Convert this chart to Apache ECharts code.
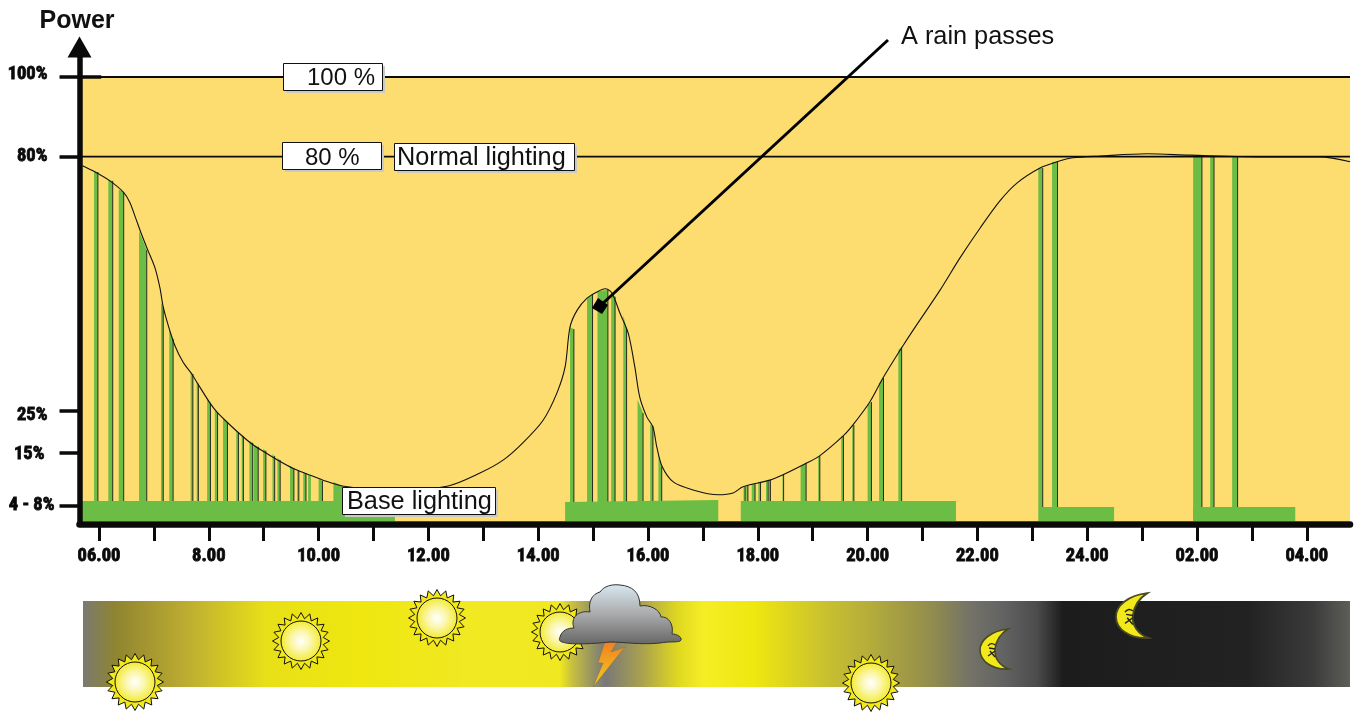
<!DOCTYPE html>
<html>
<head>
<meta charset="utf-8">
<style>html,body{margin:0;padding:0;background:#fff}#c{width:1356px;height:713px}</style>
<script src="https://cdn.jsdelivr.net/npm/echarts@6/dist/echarts.min.js"></script>
</head>
<body>
<div id="c"></div>
<script>
// Hours run on past midnight (26 = 02.00). Power is the height on the drawn, non-linear scale, 0-100.
const hourTicks = [6,7,8,9,10,11,12,13,14,15,16,17,18,19,20,21,22,23,24,25,26,27,28];
const hourLabelAt = [6,8,10,12,14,16,18,20,22,24,26,28];
const hourLabels = ['06.00','8.00','10.00','12.00','14.00','16.00','18.00','20.00','22.00','24.00','02.00','04.00'];
const powerTicks = [3.38,15.3,24.8,82.06,100];
const powerLabels = ['4 - 8%','15%','25%','80%','100%'];

const curveHour = [5.70,5.93,6.20,6.44,6.56,6.66,6.78,6.89,7.02,7.11,7.17,7.26,7.38,7.53,7.69,7.80,8.02,8.15,8.33,8.53,8.79,9.02,9.26,9.53,9.79,10.08,10.43,11.39,12.36,12.94,13.36,13.72,14.09,14.34,14.49,14.58,14.71,14.89,15.07,15.22,15.34,15.49,15.64,15.76,15.85,15.98,16.09,16.16,16.26,16.46,16.82,17.28,17.55,17.73,18.22,18.46,18.90,19.12,19.55,19.73,20.04,20.28,20.63,20.83,21.32,21.68,22.05,22.41,22.72,23.14,23.45,23.74,24.23,25.09,25.87,27.28,28.24,28.79];
const curvePower = [80.0,78.6,76.6,74.1,71.8,68.5,64.4,61.0,57.0,52.5,48.2,44.1,39.6,35.8,33.1,30.9,26.6,24.5,22.3,20.0,17.3,15.5,13.7,11.9,10.6,9.2,7.9,6.8,7.9,10.8,13.7,17.6,22.7,28.8,34.7,43.7,47.5,50.2,51.6,52.3,51.4,46.8,42.3,34.7,27.9,23.4,21.2,16.7,12.2,8.8,7.0,5.9,6.3,7.7,9.2,10.4,13.1,14.6,19.1,21.6,26.8,32.2,39.2,43.0,52.0,59.2,66.0,72.1,76.1,79.5,80.9,81.8,82.2,82.7,82.4,82.0,82.0,80.9];

const pulseStart = [5.91,6.17,6.36,6.73,7.13,7.28,7.67,7.78,7.97,8.11,8.26,8.50,8.60,8.74,8.82,8.99,9.16,9.25,9.48,9.61,9.72,9.81,10.00,10.27,
  14.58,14.89,15.08,15.33,15.55,15.81,16.04,16.19,
  17.74,17.79,17.89,18.01,18.15,18.20,18.45,18.78,19.10,19.52,19.72,20.00,20.21,20.56,
  23.11,23.36,25.93,26.24,26.64];
const pulseEnd = [5.98,6.25,6.45,6.87,7.17,7.35,7.71,7.81,8.03,8.16,8.34,8.54,8.63,8.80,8.90,9.04,9.20,9.30,9.55,9.64,9.77,9.86,10.07,10.44,
  14.65,14.99,15.27,15.40,15.61,15.91,16.09,16.25,
  17.77,17.82,17.95,18.05,18.19,18.23,18.47,18.88,19.13,19.56,19.75,20.07,20.29,20.62,
  23.19,23.46,26.09,26.31,26.74];
const pulseTopStart = [78.8,76.8,74.6,65.3,49.1,43.5,33.6,31.3,27.7,25.2,23.2,20.5,19.4,18.0,17.1,16.2,15.1,14.2,12.4,11.5,11.0,10.4,9.5,8.8,
  43.7,50.0,51.8,51.4,46.4,27.3,21.8,15.0,
  7.7,7.9,8.3,8.8,9.0,9.2,10.4,12.4,14.6,19.1,21.6,26.0,31.0,38.5,
  79.5,80.9,82.0,82.0,82.0];
const pulseTopEnd = [78.6,76.6,74.1,61.0,48.2,41.0,33.1,30.9,26.6,24.5,22.3,20.0,19.1,17.6,16.7,15.8,14.6,13.7,11.9,11.3,10.8,10.1,9.0,7.9,
  43.2,51.1,52.0,50.5,43.2,24.3,21.4,12.2,
  7.7,7.9,8.3,8.8,9.0,9.2,10.4,13.1,14.6,19.1,21.6,26.8,32.2,39.2,
  79.5,80.9,82.0,82.0,82.0];
const pulseWithoutEdge = [9.81,10.27];

const baseStart = [5.69,14.49,17.69,23.12,25.93];
const baseEnd = [11.39,17.28,21.61,24.49,27.79];
const baseTopStart = [4.5,4.28,4.5,3.15,3.15];
const baseTopEnd = [4.5,4.73,4.5,3.15,3.15];

const chart = echarts.init(document.getElementById('c'), null, {renderer:'canvas'});
const green = '#6BBD45', sand = '#FDDD6F', ink = '#0a0a0a';
const sans = '"Liberation Sans", Arial, sans-serif';
const narrow = '"Liberation Sans Narrow", "Roboto Condensed", "DejaVu Sans Condensed", sans-serif';

echarts.graphic.registerShape('moonBody', echarts.graphic.extendPath('M28 1 C11 3 0 12 0 22 C0 33 12 42 29 41 C20 38 14 30 15 21 C16 13 20 6 28 1 Z',{}));
echarts.graphic.registerShape('moonFace', echarts.graphic.extendPath('M8 18 C10 15 13 15 15 17 M9 20 L15 21 M8 28 L15 23 M10 23 L15 29',{}));
echarts.graphic.registerShape('cloud', echarts.graphic.extendPath('M560 637 C562 630 568 628 574 628 C570 618 578 610 590 612 C588 602 592 594 600 592 C604 586 612 584 620 585 C632 586 640 592 640 606 C650 604 660 610 661 617 C668 616 674 624 672 634 C677 634 682 637 681 640 C680 643 670 641 660 643 C640 645 625 642 610 642 C590 644 570 645 562 642 C559 641 559 639 560 637 Z',{}));

function footOf(h){
  for(let i=0;i<baseStart.length;i++){ if(h>=baseStart[i]&&h<=baseEnd[i]) return baseTopStart[i]; }
  return 0;
}
function box(x,y,w,h){
  return [
    {type:'rect',z:50,silent:true,shape:{x:x+3,y:y+3,width:w,height:h},style:{fill:'#c9c9c9'}},
    {type:'rect',z:51,silent:true,shape:{x:x+.5,y:y+.5,width:w,height:h},style:{fill:'#fff',stroke:'#111',lineWidth:1}}
  ];
}
function label(text,x,y,size){
  return {type:'text',z:52,silent:true,x:x,y:y,style:{text:text,fontFamily:sans,fontSize:size,fill:'#111',textAlign:'left',textVerticalAlign:'middle'}};
}
function sunShape(cx,cy){
  const pts=[]; const n=20;
  for(let i=0;i<n*2;i++){
    const r=i%2?22.5:28.5, a=Math.PI*i/n-Math.PI/2;
    pts.push([cx+r*Math.cos(a),cy+r*Math.sin(a)]);
  }
  return [
    {type:'polygon',z:40,silent:true,shape:{points:pts},style:{fill:'#f3e81a',stroke:'#111',lineWidth:1}},
    {type:'circle',z:41,silent:true,shape:{cx:cx,cy:cy,r:20},style:{stroke:'#111',lineWidth:1,
      fill:new echarts.graphic.RadialGradient(.5,.5,.5,[{offset:0,color:'#ffffff'},{offset:.45,color:'#fbf7b0'},{offset:1,color:'#f3ea30'}])}}
  ];
}
function moonShape(x,y,s){
  return [
    {type:'moonBody',z:41,silent:true,x:x,y:y,scaleX:s,scaleY:s,shape:{},style:{fill:'#f3e81a',stroke:'#4a4a20',lineWidth:1.6}},
    {type:'moonFace',z:42,silent:true,x:x,y:y,scaleX:s,scaleY:s,shape:{},style:{fill:'none',stroke:'#222',lineWidth:1.3}}
  ];
}
const stripStops = [[83,'#7a7a72'],[115,'#8f8430'],[192,'#c0b030'],[266,'#e8e018'],[356,'#efe70f'],[470,'#f1e922'],[560,'#f0e820'],[572,'#c8c040'],[605,'#787878'],[641,'#a8a050'],[678,'#e0d820'],[703,'#f5ee25'],[755,'#efe70f'],[827,'#c8c030'],[869,'#b5ad3a'],[936,'#8f8a4f'],[970,'#737368'],[1004,'#626262'],[1037,'#4c4c4c'],[1063,'#1c1c1c'],[1248,'#222222'],[1312,'#3a3a3a'],[1350,'#5e5e58']]
  .map(s=>({offset:(s[0]-83)/(1350-83),color:s[1]}));

const graphics = [].concat(
  box(283,63,99,27), [label('100 %',307,78.5,24)],
  box(282,142,99,27), [label('80 %',305,158,24)],
  box(394,143,180,27), [label('Normal lighting',397,158,25.3)],
  box(342,487,153,27), [label('Base lighting',347,502,25.3)],
  [{type:'text',z:52,silent:true,x:901,y:37,style:{text:'A rain passes',fontFamily:sans,fontSize:25.3,fill:'#111',textAlign:'left',textVerticalAlign:'middle'}},
   {type:'line',z:45,silent:true,shape:{x1:888,y1:40,x2:600,y2:306},style:{stroke:'#000',lineWidth:3}},
   {type:'polygon',z:46,silent:true,shape:{points:[[598,298],[608,305],[602,314],[592,308]]},style:{fill:'#000'}},
   {type:'rect',z:30,silent:true,shape:{x:83,y:601,width:1267,height:86},
    style:{fill:new echarts.graphic.LinearGradient(0,0,1,0,stripStops)}}],
  sunShape(135,682), sunShape(301,641), sunShape(437,618), sunShape(560,632), sunShape(871,683),
  moonShape(980,628,1), moonShape(1116,592,1.12),
  [{type:'cloud',z:44,silent:true,shape:{},
    style:{stroke:'#333',lineWidth:1,fill:new echarts.graphic.LinearGradient(0,0,0,1,[{offset:0,color:'#d8e8f0'},{offset:.5,color:'#a9aaab'},{offset:1,color:'#666666'}])}},
   {type:'polygon',z:43,silent:true,shape:{points:[[604.7,642],[617,642],[611,652],[625,647],[593,687],[603,663],[598,663]]},
    style:{stroke:'#8a7a50',lineWidth:.7,fill:new echarts.graphic.LinearGradient(0,0,0,1,[{offset:0,color:'#f08020'},{offset:1,color:'#f2d020'}])}}]
);

const option = {
  animation:false,
  backgroundColor:'#fff',
  title:{text:'Power',left:34.5,top:4,textStyle:{fontFamily:sans,fontSize:25,fontWeight:'bold',color:'#111'}},
  grid:{left:79.5,right:6,top:47,bottom:189,show:false},
  xAxis:{type:'value',min:5.645,max:28.787,z:10,
    axisLine:{onZero:false,lineStyle:{color:ink,width:6.5}},
    axisTick:{customValues:hourTicks,length:17,lineStyle:{color:ink,width:3}},
    axisLabel:{customValues:hourLabelAt,margin:23,fontFamily:narrow,fontWeight:'bold',fontSize:18.5,color:ink,
      textBorderColor:ink,textBorderWidth:.8,
      formatter:v=>hourLabels[hourLabelAt.indexOf(v)]},
    splitLine:{show:false}},
  yAxis:{type:'value',min:-0.676,max:106.757,z:10,
    axisLine:{show:true,onZero:false,symbol:['none','triangle'],symbolSize:[24,21],lineStyle:{color:ink,width:5.5,cap:'square'}},
    axisTick:{show:true,customValues:powerTicks,length:20,lineStyle:{color:ink,width:3.5}},
    axisLabel:{customValues:powerTicks,margin:25,color:ink,
      formatter:v=>{const i=powerTicks.indexOf(v);return '{l'+i+'|'+powerLabels[i]+'}';},
      rich:{
        l0:{fontFamily:narrow,fontWeight:'bold',fontSize:18.5,color:ink,textBorderColor:ink,textBorderWidth:.8,padding:[0,0,2,0]},
        l1:{fontFamily:narrow,fontWeight:'bold',fontSize:18.5,color:ink,textBorderColor:ink,textBorderWidth:.8,padding:[2,10,0,0]},
        l2:{fontFamily:narrow,fontWeight:'bold',fontSize:18.5,color:ink,textBorderColor:ink,textBorderWidth:.8,padding:[8,7,0,0]},
        l3:{fontFamily:narrow,fontWeight:'bold',fontSize:18.5,color:ink,textBorderColor:ink,textBorderWidth:.8,padding:[0,7,0,0]},
        l4:{fontFamily:narrow,fontWeight:'bold',fontSize:18.5,color:ink,textBorderColor:ink,textBorderWidth:.8,padding:[0,7,6,0]}
      }},
    splitLine:{show:false}},
  series:[
    {type:'custom',name:'Base lighting',z:3,silent:true,clip:false,
      data:baseStart.map((s,i)=>[s,baseEnd[i],baseTopStart[i],baseTopEnd[i]]),
      encode:{x:[0,1],y:[2,3]},
      renderItem:(p,api)=>{
        const a=api.coord([api.value(0),0]),b=api.coord([api.value(1),0]),
              c=api.coord([api.value(1),api.value(3)]),d=api.coord([api.value(0),api.value(2)]);
        return {type:'polygon',shape:{points:[a,b,c,d]},style:{fill:green}};
      }},
    {type:'custom',name:'Lighting pulses',z:2,silent:true,clip:false,
      data:pulseStart.map((s,i)=>[s,pulseEnd[i],pulseTopStart[i],pulseTopEnd[i]]),
      encode:{x:[0,1],y:[2,3]},
      renderItem:(p,api)=>{
        const s=api.value(0),e=api.value(1),tl=api.value(2),tr=api.value(3);
        const a=api.coord([s,0]),b=api.coord([e,0]),c=api.coord([e,tr]),d=api.coord([s,tl]);
        const kids=[{type:'polygon',shape:{points:[a,b,c,d]},style:{fill:green}}];
        if(pulseWithoutEdge.indexOf(s)<0){
          const f=api.coord([e,footOf(e)]);
          kids.push({type:'line',shape:{x1:c[0],y1:c[1],x2:f[0],y2:f[1]},style:{stroke:'#2a2a20',lineWidth:1}});
        }
        return {type:'group',children:kids};
      }},
    {type:'line',name:'Power',z:5,silent:true,showSymbol:false,smooth:.3,
      data:curveHour.map((h,i)=>[h,curvePower[i]]),
      lineStyle:{color:'#111',width:1.1},
      markArea:{silent:true,z:1,itemStyle:{color:sand},data:[[{xAxis:5.69,yAxis:0},{xAxis:28.787,yAxis:100}]]}},
    {type:'line',name:'100 %',z:6,silent:true,showSymbol:false,data:[[5.69,100],[28.787,100]],lineStyle:{color:ink,width:2}},
    {type:'line',name:'100 % stub',z:6,silent:true,showSymbol:false,data:[[5.69,100],[6.04,100]],lineStyle:{color:ink,width:3.5}},
    {type:'line',name:'80 %',z:6,silent:true,showSymbol:false,data:[[5.69,82.06],[28.787,82.06]],lineStyle:{color:ink,width:1.6}}
  ],
  graphic:{elements:graphics}
};
chart.setOption(option);
</script>
</body>
</html>
